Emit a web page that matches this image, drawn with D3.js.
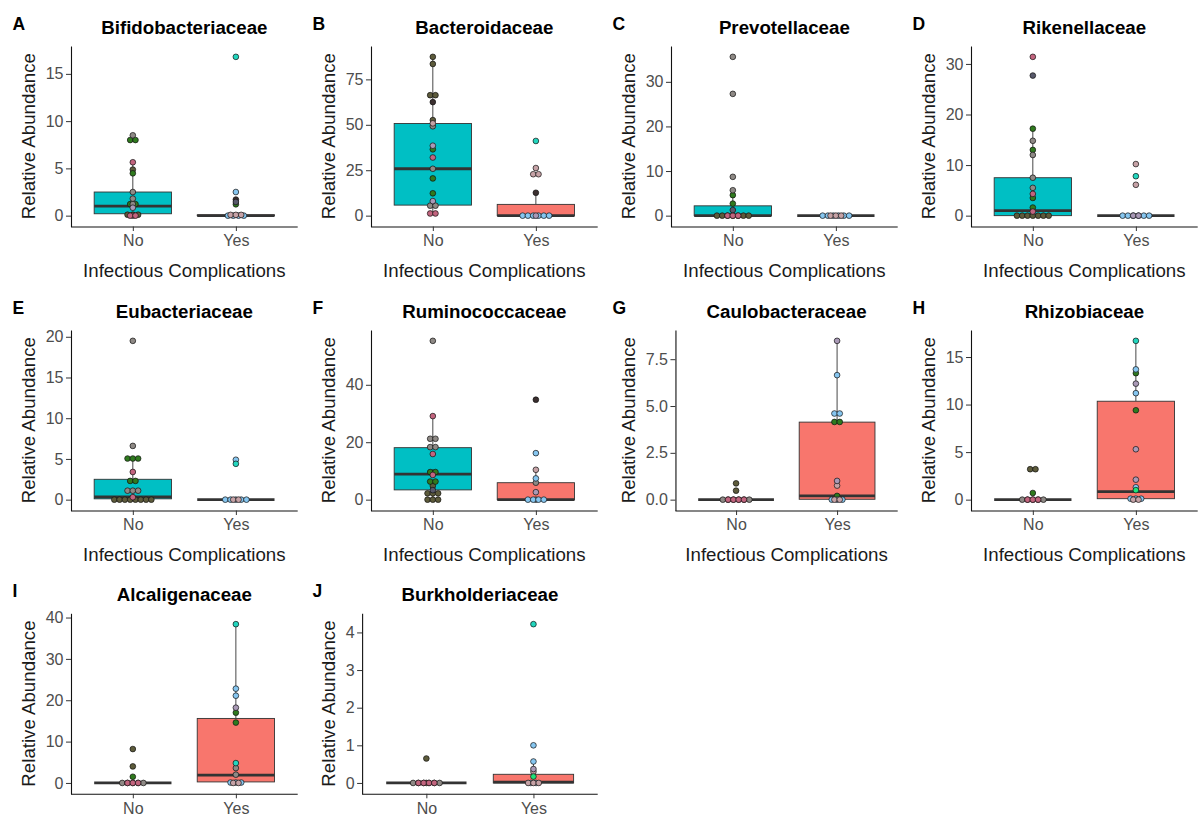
<!DOCTYPE html>
<html>
<head>
<meta charset="utf-8">
<script src="https://cdn.jsdelivr.net/npm/d3@7"></script>
<style>
  body { margin: 0; background: #fff; }
  text { font-family: "Liberation Sans", Arial, sans-serif; }
</style>
</head>
<body>
<svg id="chart" width="1200" height="819"></svg>
<script>
// ---- data ---------------------------------------------------------------
const families = ["Bifidobacteriaceae", "Bacteroidaceae", "Prevotellaceae", "Rikenellaceae",
  "Eubacteriaceae", "Ruminococcaceae", "Caulobacteraceae", "Rhizobiaceae",
  "Alcaligenaceae", "Burkholderiaceae"];
const panelLetters = ["A", "B", "C", "D", "E", "F", "G", "H", "I", "J"];
const groups = ["No", "Yes"];
const sampleGroups = ["p1", "p2", "p3", "p4", "p5", "p6", "p7", "p8", "p9", "p10", "p11"];

const yTicks = [
  [0, 5, 10, 15], [0, 25, 50, 75], [0, 10, 20, 30], [0, 10, 20, 30],
  [0, 5, 10, 15, 20], [0, 20, 40], [0, 2.5, 5, 7.5], [0, 5, 10, 15],
  [0, 10, 20, 30, 40], [0, 1, 2, 3, 4]
];

// box summaries: [q1, median, q3, lower whisker, upper whisker]
const boxNo = [
  [0.2, 1.0, 2.5, 0, 5.65], [5.8, 25.8, 50.7, 1.0, 87.4], [0, 0, 2.2, 0, 4.6],
  [0, 1.0, 7.5, 0, 17.2], [0.1, 0.35, 2.5, 0, 5.05], [3.4, 8.9, 18.1, 0, 29.1],
  [0, 0, 0, 0, 0], [0, 0, 0, 0, 0], [0, 0, 0, 0, 0], [0, 0, 0, 0, 0]
];
const boxYes = [
  [0, 0, 0.08, 0, 0.15], [0, 0, 6.2, 0, 12.6], [0, 0, 0, 0, 0],
  [0, 0, 0, 0, 0], [0, 0, 0, 0, 0], [0, 0, 5.9, 0, 10.4],
  [0.02, 0.2, 4.14, 0, 8.48], [0.1, 0.85, 10.35, 0, 16.7], [0.25, 1.9, 15.6, 0, 38.4],
  [0, 0.02, 0.23, 0, 0.57]
];

// individual samples: [relative abundance, sample group]
const bifidobacteriaceaeNo = [[8.5,"p3"],[8.0,"p2"],[8.0,"p2"],[5.65,"p4"],[4.87,"p1"],[4.48,"p2"],[2.5,"p3"],[1.8,"p3"],[1.22,"p2"],[1.22,"p2"],[1.22,"p3"],[0.84,"p9"],[0.2,"p1"],[0,"p1"],[0,"p1"],[0,"p3"],[0,"p4"],[0,"p4"]];
const bifidobacteriaceaeYes = [[16.8,"p6"],[2.5,"p5"],[1.7,"p7"],[1.45,"p10"],[1.2,"p2"],[0.08,"p8"],[0.08,"p8"],[0.08,"p8"],[0,"p5"],[0,"p5"],[0,"p5"],[0,"p5"]];
const bacteroidaceaeNo = [[87.4,"p1"],[83.5,"p1"],[66.3,"p1"],[66.3,"p1"],[62.5,"p7"],[52.6,"p1"],[50.8,"p8"],[49.2,"p3"],[38.5,"p9"],[36.5,"p2"],[32,"p4"],[25.8,"p3"],[20.5,"p2"],[12.3,"p2"],[8,"p9"],[5.5,"p3"],[5.5,"p3"],[1.2,"p4"],[1.2,"p4"]];
const bacteroidaceaeYes = [[41.1,"p6"],[26.2,"p8"],[22.8,"p8"],[22.8,"p8"],[12.6,"p7"],[0,"p5"],[0,"p5"],[0,"p5"],[0,"p5"],[0,"p5"],[0,"p5"],[0,"p9"]];
const prevotellaceaeNo = [[35.6,"p3"],[27.3,"p3"],[8.7,"p3"],[5.7,"p3"],[4.6,"p2"],[2.7,"p2"],[1.25,"p10"],[0,"p1"],[0,"p1"],[0,"p1"],[0,"p1"],[0,"p1"],[0,"p1"],[0,"p1"],[0,"p4"],[0,"p4"],[0,"p4"]];
const prevotellaceaeYes = [[0,"p5"],[0,"p5"],[0,"p5"],[0,"p5"],[0,"p5"],[0,"p5"],[0,"p8"],[0,"p8"],[0,"p8"]];
const rikenellaceaeNo = [[31.4,"p4"],[27.7,"p10"],[17.2,"p2"],[14.8,"p3"],[13.0,"p2"],[12.0,"p3"],[7.5,"p3"],[5.5,"p3"],[4.3,"p4"],[3.5,"p2"],[1.6,"p2"],[0.8,"p4"],[0,"p1"],[0,"p1"],[0,"p1"],[0,"p1"],[0,"p1"],[0,"p1"],[0,"p1"]];
const rikenellaceaeYes = [[10.2,"p8"],[7.8,"p6"],[6.1,"p8"],[0,"p5"],[0,"p5"],[0,"p5"],[0,"p5"],[0,"p5"],[0,"p5"],[0,"p9"],[0,"p9"]];
const eubacteriaceaeNo = [[19.5,"p3"],[6.6,"p3"],[5.05,"p2"],[5.05,"p2"],[5.05,"p2"],[3.4,"p4"],[2.3,"p2"],[2.3,"p2"],[1.1,"p3"],[1.1,"p3"],[1.1,"p3"],[0.3,"p4"],[0,"p1"],[0,"p1"],[0,"p1"],[0,"p1"],[0,"p1"],[0,"p1"],[0,"p1"],[0,"p1"]];
const eubacteriaceaeYes = [[4.9,"p5"],[4.4,"p6"],[0,"p5"],[0,"p5"],[0,"p5"],[0,"p5"],[0,"p5"],[0,"p8"],[0,"p8"]];
const ruminococcaceaeNo = [[55.3,"p3"],[29.1,"p4"],[21.2,"p3"],[21.2,"p3"],[18.3,"p3"],[18.3,"p3"],[15.9,"p4"],[9.6,"p2"],[9.6,"p2"],[9.4,"p1"],[8.6,"p4"],[6.3,"p2"],[6.3,"p2"],[4.8,"p1"],[3.3,"p10"],[2.2,"p1"],[2.2,"p1"],[2.2,"p1"],[0,"p1"],[0,"p1"],[0,"p1"]];
const ruminococcaceaeYes = [[34.8,"p7"],[16.2,"p5"],[10.4,"p8"],[7.4,"p5"],[5.9,"p3"],[2.6,"p9"],[0,"p5"],[0,"p5"],[0,"p5"],[0,"p5"],[0,"p3"]];
const caulobacteraceaeNo = [[0.87,"p1"],[0.48,"p1"],[0,"p3"],[0,"p3"],[0,"p3"],[0,"p3"],[0,"p3"],[0,"p3"],[0,"p4"],[0,"p4"],[0,"p4"],[0,"p4"]];
const caulobacteraceaeYes = [[8.48,"p9"],[6.65,"p5"],[4.65,"p5"],[4.55,"p5"],[4.15,"p2"],[4.15,"p2"],[1.0,"p9"],[0.75,"p8"],[0.2,"p2"],[0,"p5"],[0,"p5"],[0,"p5"],[0,"p8"],[0,"p8"]];
const rhizobiaceaeNo = [[3.2,"p1"],[3.2,"p1"],[0.7,"p2"],[0,"p3"],[0,"p3"],[0,"p3"],[0,"p3"],[0,"p3"],[0,"p4"],[0,"p4"],[0,"p4"]];
const rhizobiaceaeYes = [[16.7,"p6"],[13.7,"p5"],[13.3,"p2"],[12.2,"p9"],[11.2,"p5"],[9.4,"p2"],[5.3,"p9"],[2.1,"p9"],[1.3,"p5"],[1.0,"p11"],[0.1,"p5"],[0.1,"p5"],[0.1,"p5"],[0,"p8"],[0,"p8"]];
const alcaligenaceaeNo = [[8.2,"p1"],[4.0,"p1"],[1.5,"p2"],[0,"p3"],[0,"p3"],[0,"p3"],[0,"p3"],[0,"p3"],[0,"p4"],[0,"p4"],[0,"p4"]];
const alcaligenaceaeYes = [[38.4,"p6"],[22.8,"p5"],[21.1,"p5"],[18.2,"p9"],[17.0,"p2"],[14.6,"p2"],[4.8,"p6"],[3.6,"p3"],[2.0,"p3"],[0.1,"p5"],[0.1,"p5"],[0.1,"p5"],[0,"p8"],[0,"p8"]];
const burkholderiaceaeNo = [[0.65,"p1"],[0,"p1"],[0,"p3"],[0,"p3"],[0,"p3"],[0,"p3"],[0,"p3"],[0,"p3"],[0,"p4"],[0,"p4"],[0,"p4"],[0,"p4"]];
const burkholderiaceaeYes = [[4.22,"p6"],[1.0,"p5"],[0.57,"p5"],[0.37,"p9"],[0.3,"p8"],[0.17,"p11"],[0,"p5"],[0,"p5"],[0,"p8"],[0,"p8"],[0,"p8"]];

const samplesNo = [bifidobacteriaceaeNo, bacteroidaceaeNo, prevotellaceaeNo, rikenellaceaeNo,
  eubacteriaceaeNo, ruminococcaceaeNo, caulobacteraceaeNo, rhizobiaceaeNo, alcaligenaceaeNo, burkholderiaceaeNo];
const samplesYes = [bifidobacteriaceaeYes, bacteroidaceaeYes, prevotellaceaeYes, rikenellaceaeYes,
  eubacteriaceaeYes, ruminococcaceaeYes, caulobacteraceaeYes, rhizobiaceaeYes, alcaligenaceaeYes, burkholderiaceaeYes];

// ---- styling / layout -----------------------------------------------------
const boxFill = d3.scaleOrdinal().domain(groups).range(["#00BFC4", "#F8766D"]);
const dotFill = d3.scaleOrdinal().domain(sampleGroups).range([
  "#5d5b3b", "#2f7a1e", "#8e8985", "#c2647e", "#86c6f0", "#22d6be",
  "#3b2f2f", "#c6a2a6", "#a999b6", "#58596b", "#1ee27a"
]);

const colX = [0, 300, 600, 900];
const rowTop = [46, 330, 613.3];
const plotH = 180.5;
const svg = d3.select("#chart");

// dot-density binning: a bin starts at a value and spans one binwidth,
// the bin centre is the midpoint of its smallest and largest value
function densityBins(values, bw) {
  const sorted = values.slice().sort((a, b) => a - b);
  const bins = [];
  let end = -Infinity, cur = null;
  for (const v of sorted) {
    if (v >= end) { cur = []; bins.push(cur); end = v + bw; }
    cur.push(v);
  }
  return bins.map(b => ({ center: (b[0] + b[b.length - 1]) / 2, n: b.length }));
}

families.forEach((family, i) => {
  const r = Math.floor(i / 4), c = i % 4;
  const x0 = colX[c], top = rowTop[r], bottom = top + plotH;
  const g = svg.append("g");

  const all = samplesNo[i].concat(samplesYes[i]).map(d => d[0]);
  const M = d3.max(all);
  const bw = M / 30;
  const pad = bw / 2 + 0.05 * (M + bw);
  const y = d3.scaleLinear().domain([-pad, M + pad]).range([bottom, top]);

  const ticks = yTicks[i];
  const fmt = ticks.some(t => !Number.isInteger(t)) ? d3.format(".1f") : d3.format("d");

  // y axis (placed after measuring its labels)
  const yAxisG = g.append("g")
    .call(d3.axisLeft(y).tickValues(ticks).tickFormat(fmt).tickSize(5).tickSizeOuter(0).tickPadding(2.5));
  yAxisG.selectAll("text").attr("font-size", 16).attr("fill", "#4d4d4d")
    .style("font-family", "'Liberation Sans', Arial, sans-serif");
  let maxW = 0;
  yAxisG.selectAll("text").each(function () { maxW = Math.max(maxW, this.getComputedTextLength()); });
  const left = x0 + 53.2 + maxW;
  const right = x0 + 297.7;
  yAxisG.attr("transform", `translate(${left},0)`);
  yAxisG.select(".domain").attr("stroke", "#111").attr("stroke-width", 1.1);
  yAxisG.selectAll(".tick line").attr("stroke", "#333").attr("stroke-width", 1);

  const x = d3.scalePoint().domain(groups).range([left, right]).padding(0.6);
  const boxW = 0.75 * x.step();

  // x axis
  const xAxisG = g.append("g").attr("transform", `translate(0,${bottom})`)
    .call(d3.axisBottom(x).tickSize(4.5).tickSizeOuter(0).tickPadding(4));
  xAxisG.select(".domain").attr("stroke", "#111").attr("stroke-width", 1.1)
    .attr("d", `M${left},0.5H${right}`);
  xAxisG.selectAll(".tick line").attr("stroke", "#333").attr("stroke-width", 1);
  xAxisG.selectAll("text").attr("font-size", 16).attr("fill", "#4d4d4d")
    .style("font-family", "'Liberation Sans', Arial, sans-serif");

  // boxplots
  const stats = [boxNo[i], boxYes[i]];
  groups.forEach((grp, k) => {
    const [q1, med, q3, lo, hi] = stats[k];
    const cx = x(grp);
    const bg = g.append("g");
    bg.append("line").attr("x1", cx).attr("x2", cx).attr("y1", y(q3)).attr("y2", y(hi))
      .attr("stroke", "#333").attr("stroke-width", 0.9);
    bg.append("line").attr("x1", cx).attr("x2", cx).attr("y1", y(q1)).attr("y2", y(lo))
      .attr("stroke", "#333").attr("stroke-width", 0.9);
    bg.append("rect").attr("x", cx - boxW / 2).attr("width", boxW)
      .attr("y", y(q3)).attr("height", Math.max(0, y(q1) - y(q3)))
      .attr("fill", boxFill(grp)).attr("stroke", "#333").attr("stroke-width", 0.9);
    bg.append("line").attr("x1", cx - boxW / 2).attr("x2", cx + boxW / 2)
      .attr("y1", y(med)).attr("y2", y(med)).attr("stroke", "#333").attr("stroke-width", 2.8);
  });

  // dot plots, binned and centred-stacked separately for each sample group
  const dotD = y(0) - y(bw);
  const samples = [samplesNo[i], samplesYes[i]];
  groups.forEach((grp, k) => {
    const cx = x(grp);
    sampleGroups.forEach(sg => {
      const vals = samples[k].filter(d => d[1] === sg).map(d => d[0]);
      if (!vals.length) return;
      densityBins(vals, bw).forEach(b => {
        for (let j = 0; j < b.n; j++) {
          g.append("circle")
            .attr("cx", cx + (j - (b.n - 1) / 2) * dotD)
            .attr("cy", y(b.center))
            .attr("r", dotD / 2 + 0.2)
            .attr("fill", dotFill(sg))
            .attr("stroke", "#111").attr("stroke-width", 0.7);
        }
      });
    });
  });

  // titles
  g.append("text").attr("x", (left + right) / 2).attr("y", top - 12.5)
    .attr("text-anchor", "middle").attr("font-size", 18.7).attr("font-weight", "bold")
    .attr("fill", "#000").text(family);
  g.append("text").attr("x", x0 + 12.5).attr("y", top - 16.5)
    .attr("font-size", 17.5).attr("font-weight", "bold").attr("fill", "#000")
    .text(panelLetters[i]);
  g.append("text")
    .attr("transform", `translate(${x0 + 35},${(top + bottom) / 2}) rotate(-90)`)
    .attr("text-anchor", "middle").attr("font-size", 18.7).attr("fill", "#1a1a1a")
    .text("Relative Abundance");
  if (r < 2) {
    g.append("text").attr("x", (left + right) / 2).attr("y", bottom + 50)
      .attr("text-anchor", "middle").attr("font-size", 18.7).attr("fill", "#1a1a1a")
      .text("Infectious Complications");
  }
});
</script>
</body>
</html>
